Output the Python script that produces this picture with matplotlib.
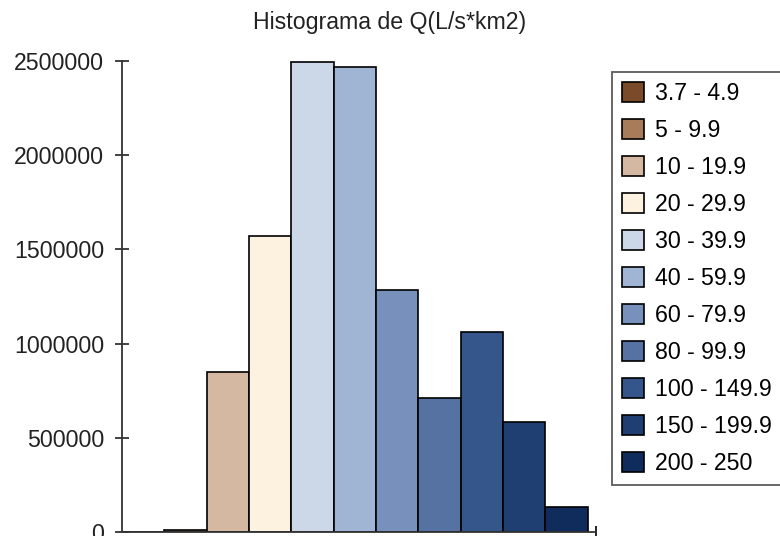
import numpy as np
import matplotlib
matplotlib.use('Agg')
import matplotlib.pyplot as plt

plt.rcParams['font.family'] = ['Liberation Sans', 'DejaVu Sans']

# data
categories = ['3.7 - 4.9', '5 - 9.9', '10 - 19.9', '20 - 29.9', '30 - 39.9',
              '40 - 59.9', '60 - 79.9', '80 - 99.9', '100 - 149.9',
              '150 - 199.9', '200 - 250']
values = [0, 10000, 847000, 1569000, 2493000, 2468000, 1287000,
          713000, 1064000, 586000, 133000]
colors = ['#7B4A2B', '#A87B5A', '#D4B8A2', '#FDF1E0', '#CCD7E8', '#A0B4D4',
          '#7891BC', '#5672A3', '#34568B', '#1F3F73', '#0F2C5C']
y_ticks = [0, 500000, 1000000, 1500000, 2000000, 2500000]

fig = plt.figure(figsize=(7.8, 5.36), dpi=100)
ax = fig.add_axes([122 / 780, 4 / 536, (596 - 122) / 780, (532 - 61) / 536])

x = np.arange(len(values))
bars = ax.bar(x, values, width=1.0, color=colors, edgecolor='black',
              linewidth=1.2)
for b, lab in zip(bars, categories):
    b.set_label(lab)

ax.set_xlim(-0.5, 10.7)
ax.set_ylim(0, 2500000)
ax.set_yticks(y_ticks)
ax.set_yticklabels([str(v) for v in y_ticks])
ax.set_xticks([10.7])
ax.set_xticklabels([])
ax.tick_params(axis='y', direction='inout', length=10, width=1.2,
               labelsize=16.7, pad=8, colors='#222222')
ax.tick_params(axis='x', direction='inout', length=8, width=1.2)
for s in ['top', 'right']:
    ax.spines[s].set_visible(False)
for s in ['left', 'bottom']:
    ax.spines[s].set_linewidth(1.3)
    ax.spines[s].set_color('#333333')
ax.patch.set_alpha(0)

fig.text(0.5, 1 - 22 / 536, 'Histograma de Q(L/s*km2)', ha='center',
         va='center', fontsize=16.7, color='#222222')

# legend runs past the right edge like the original
leg = fig.legend(handles=list(bars), loc='upper left',
                 bbox_to_anchor=(612 / 780, 1 - 72 / 536),
                 borderaxespad=0, fontsize=16.7, frameon=True, fancybox=False,
                 handlelength=0.95, handleheight=0.95, handletextpad=0.45,
                 labelspacing=0.6, borderpad=0.45)
leg.get_frame().set_edgecolor('#333333')
leg.get_frame().set_linewidth(1.3)

fig.savefig('out.png', dpi=100)
